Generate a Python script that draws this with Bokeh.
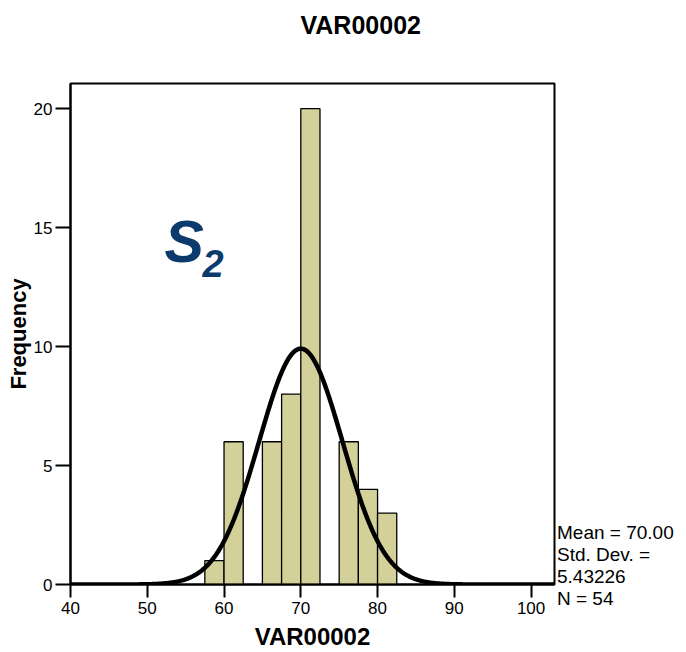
import numpy as np
from bokeh.plotting import figure
from bokeh.models import Range1d, Label, FixedTicker, Legend, LegendItem, LinearAxis
from bokeh.embed import file_html
from bokeh.resources import INLINE

# ---- data ----
bin_left = [57.5, 60.0, 65.0, 67.5, 70.0, 75.0, 77.5, 80.0]
counts = [1, 6, 6, 8, 20, 6, 4, 3]
bin_width = 2.5
mean_val = 70.00
std_val = 5.43226
n_val = 54
x_ticks = [40, 50, 60, 70, 80, 90, 100]
y_ticks = [0, 5, 10, 15, 20]
stats_lines = ["Mean = 70.00", "Std. Dev. =", "5.43226", "N = 54"]
title_text = "VAR00002"
x_label = "VAR00002"
y_label = "Frequency"

FONT = "Liberation Sans"

x0, x1 = 40.0, 103.05
y0, y1 = 0.0, 21.06

p = figure(frame_width=484, frame_height=501, output_backend="svg", toolbar_location=None,
           x_range=Range1d(x0, x1), y_range=Range1d(y0, y1),
           min_border_left=70, min_border_right=132, min_border_top=82,
           min_border_bottom=69)
p.background_fill_color = "white"
p.border_fill_color = "white"
p.outline_line_color = "black"
p.outline_line_width = 2
p.xgrid.visible = False
p.ygrid.visible = False

# blank spacer axis above the frame (no lines, empty labels), pushes the title up
spacer = LinearAxis(ticker=FixedTicker(ticks=x_ticks), major_tick_out=37, major_tick_in=0,
                    major_tick_line_color=None, axis_line_color=None,
                    minor_tick_out=0, minor_tick_line_color=None,
                    major_label_standoff=0, major_label_text_font_size="1px",
                    major_label_overrides={t: "" for t in x_ticks})
p.add_layout(spacer, "above")

# title
p.title.text = title_text
p.title.align = "left"
p.title.offset = 230
p.title.text_font = FONT
p.title.text_font_size = "25px"
p.title.text_font_style = "bold"
p.title.text_color = "black"
p.title.standoff = 16

# bars
bin_right = [b + bin_width for b in bin_left]
p.quad(left=bin_left, right=bin_right, bottom=0, top=counts,
       fill_color="#d4d09a", line_color="black", line_width=1.3)

# fitted normal curve (from the reported mean, std and N)
xs = np.linspace(x0, x1, 500)
ys = n_val * bin_width / (std_val * np.sqrt(2 * np.pi)) * np.exp(-0.5 * ((xs - mean_val) / std_val) ** 2)
curve = p.line(xs, ys, line_color="black", line_width=4.5)

# axes
xax = p.below[0]
yax = p.left[0]
for ax, ticks, tick_out in ((xax, x_ticks, 13), (yax, y_ticks, 15)):
    ax.ticker = FixedTicker(ticks=ticks)
    ax.minor_tick_line_color = None
    ax.major_tick_out = tick_out
    ax.major_tick_in = 0
    ax.major_tick_line_width = 2
    ax.major_tick_line_color = "black"
    ax.axis_line_width = 2
    ax.axis_line_color = "black"
    ax.major_label_text_font = FONT
    ax.major_label_text_font_size = "17px"
    ax.major_label_text_color = "black"
    ax.axis_label_text_font = FONT
    ax.axis_label_text_font_style = "bold"
    ax.axis_label_text_color = "black"
xax.major_label_standoff = 4
yax.major_label_standoff = 3
xax.axis_label = x_label
xax.axis_label_text_font_size = "24px"
xax.axis_label_standoff = 6
yax.axis_label = y_label
yax.axis_label_text_font_size = "22px"
yax.axis_label_standoff = 0

# pixel -> data helpers (reference pixel coordinates)
def dx(px):
    return x0 + (px - 70) / ((554 - 70) / (x1 - x0))

def dy(py):
    return y0 + (583 - py) / ((583 - 82) / (y1 - y0))

# S2 annotation
p.add_layout(Label(x=dx(164), y=dy(240), text="S", text_font="Liberation Sans",
                   text_font_size="59px", text_font_style="bold italic",
                   text_baseline="alphabetic", text_color="#0d3a6c"))
p.add_layout(Label(x=dx(202), y=dy(262), text="2", text_font="Liberation Sans",
                   text_font_size="38px", text_font_style="bold italic",
                   text_baseline="alphabetic", text_color="#0d3a6c"))

# statistics text as a legend without glyphs, right of the frame
items = [LegendItem(label=s, renderers=[curve]) for s in stats_lines]
legend = Legend(items=items, location=(3, -26), glyph_width=0, glyph_height=15,
                label_standoff=0, label_height=15, spacing=-4, padding=3, margin=0,
                label_text_font=FONT, label_text_font_size="19px",
                label_text_color="black", border_line_color=None,
                background_fill_alpha=0, click_policy="none")
p.add_layout(legend, "right")

open("out.html", "w").write(file_html(p, INLINE))
